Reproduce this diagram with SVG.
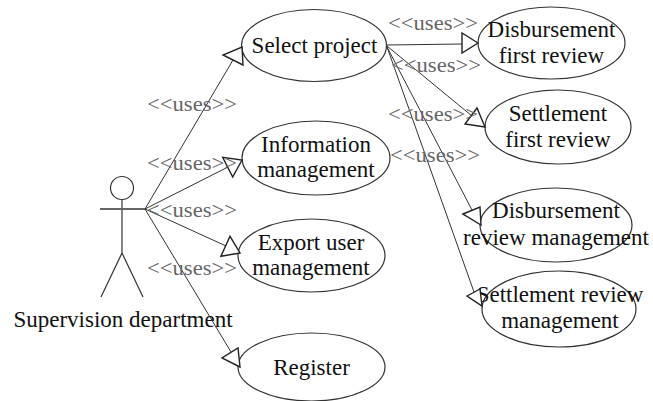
<svg xmlns="http://www.w3.org/2000/svg" width="653" height="401" viewBox="0 0 653 401">
<style>
.uc{fill:#fff;stroke:#333;stroke-width:1.2}
.t{font-family:'Liberation Serif','Times New Roman',Tinos,'Nimbus Roman','DejaVu Serif',serif;font-size:23px;fill:#111;text-anchor:middle}
.lbl{font-family:'Liberation Serif','Times New Roman',Tinos,'Nimbus Roman','DejaVu Serif',serif;font-size:20px;fill:#666}
.ln{stroke:#333;stroke-width:1;fill:none}
.ah{fill:#fff;stroke:#222;stroke-width:1.4;stroke-linejoin:miter}
.act{stroke:#333;stroke-width:1.2;fill:none}
</style>
<rect width="653" height="401" fill="#fff"/>
<g id="actor">
<circle class="act" cx="122" cy="188" r="11.5" fill="#fff"/>
<line class="act" x1="122" y1="199.5" x2="122" y2="253"/>
<line x1="100" y1="209" x2="145" y2="209" stroke="#666" stroke-width="2"/>
<line class="act" x1="122" y1="253" x2="101" y2="297"/>
<line class="act" x1="122" y1="253" x2="143" y2="297"/>
<text class="t" x="123" y="327" font-family="Liberation Serif, serif">Supervision department</text>
</g>
<g id="select-project">
<ellipse class="uc" cx="314" cy="45.5" rx="72.5" ry="36"/>
<text class="t" x="314.5" y="53">Select project</text>
</g>
<g id="information-management">
<ellipse class="uc" cx="316" cy="158" rx="74" ry="37"/>
<text class="t" x="316" y="152">Information</text>
<text class="t" x="316" y="177">management</text>
</g>
<g id="export-user-management">
<ellipse class="uc" cx="311.5" cy="255.5" rx="73.5" ry="36.5"/>
<text class="t" x="311" y="250">Export user</text>
<text class="t" x="311" y="275">management</text>
</g>
<g id="register">
<ellipse class="uc" cx="311.5" cy="367" rx="73.5" ry="34"/>
<text class="t" x="311.5" y="375">Register</text>
</g>
<g id="disbursement-first-review">
<ellipse class="uc" cx="551.5" cy="43" rx="73.5" ry="36"/>
<text class="t" x="551.5" y="37">Disbursement</text>
<text class="t" x="551.5" y="63">first review</text>
</g>
<g id="settlement-first-review">
<ellipse class="uc" cx="558" cy="127" rx="73" ry="37"/>
<text class="t" x="558" y="121">Settlement</text>
<text class="t" x="558" y="147">first review</text>
</g>
<g id="disbursement-review-management">
<ellipse class="uc" cx="556" cy="225" rx="76" ry="37"/>
<text class="t" x="556" y="218">Disbursement</text>
<text class="t" x="556" y="245">review management</text>
</g>
<g id="settlement-review-management">
<ellipse class="uc" cx="559" cy="309" rx="77" ry="38"/>
<text class="t" x="560" y="302">Settlement review</text>
<text class="t" x="560" y="328">management</text>
</g>
<g id="connectors">
<line class="ln" x1="145" y1="209" x2="233" y2="60"/>
<line class="ln" x1="145" y1="209" x2="228" y2="167"/>
<line class="ln" x1="145" y1="209" x2="226" y2="246"/>
<line class="ln" x1="145" y1="209" x2="231" y2="352"/>
<line class="ln" x1="387" y1="45" x2="462" y2="44"/>
<line class="ln" x1="387" y1="46" x2="472" y2="116"/>
<line class="ln" x1="387" y1="47" x2="472" y2="210"/>
<line class="ln" x1="387" y1="47" x2="474" y2="292"/>
<polygon class="ah" points="242,47 243,65 223,55"/>
<polygon class="ah" points="242,160 232.7,177 222.7,157.4"/>
<polygon class="ah" points="240,253 220.9,256.3 230,236.3"/>
<polygon class="ah" points="240,367 222,358 238,348"/>
<polygon class="ah" points="478,43 462,33 462,53"/>
<polygon class="ah" points="485,127 465,124 477,108"/>
<polygon class="ah" points="463,214 480,207 481,225"/>
<polygon class="ah" points="467,296 480,289 482,306"/>
<text class="lbl" x="147" y="111" textLength="90" lengthAdjust="spacingAndGlyphs">&lt;&lt;uses&gt;&gt;</text>
<text class="lbl" x="147" y="170" textLength="90" lengthAdjust="spacingAndGlyphs">&lt;&lt;uses&gt;&gt;</text>
<text class="lbl" x="147" y="217" textLength="90" lengthAdjust="spacingAndGlyphs">&lt;&lt;uses&gt;&gt;</text>
<text class="lbl" x="147" y="275" textLength="90" lengthAdjust="spacingAndGlyphs">&lt;&lt;uses&gt;&gt;</text>
<text class="lbl" x="388" y="30" textLength="90" lengthAdjust="spacingAndGlyphs">&lt;&lt;uses&gt;&gt;</text>
<text class="lbl" x="391" y="72" textLength="90" lengthAdjust="spacingAndGlyphs">&lt;&lt;uses&gt;&gt;</text>
<text class="lbl" x="388" y="121" textLength="90" lengthAdjust="spacingAndGlyphs">&lt;&lt;uses&gt;&gt;</text>
<text class="lbl" x="390" y="162" textLength="90" lengthAdjust="spacingAndGlyphs">&lt;&lt;uses&gt;&gt;</text>
</g>
</svg>
